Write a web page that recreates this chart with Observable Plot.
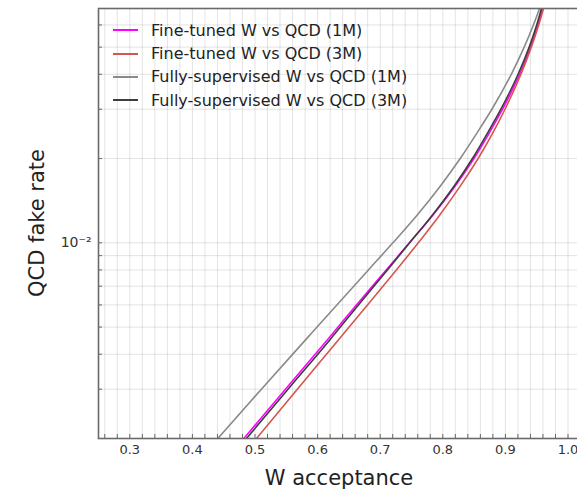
<!DOCTYPE html>
<html><head><meta charset="utf-8">
<script src="https://cdn.jsdelivr.net/npm/d3@7"></script>
<script src="https://cdn.jsdelivr.net/npm/@observablehq/plot@0.6"></script>
<style>
html,body{margin:0;padding:0;background:#fff;overflow:hidden;}
#wrap{position:relative;width:577px;height:491px;overflow:hidden;font-family:"DejaVu Sans",sans-serif;background:#fff;}
#chart{position:absolute;left:0;top:0;width:585px;height:491px;}
#chart svg{max-width:none !important;width:585px;height:491px;}
.title{position:absolute;color:#222;font-size:21px;white-space:nowrap;line-height:1;}
#xtitle{left:339px;top:478px;transform:translate(-50%,-50%);}
#ytitle{left:37px;top:223px;transform:translate(-50%,-50%) rotate(-90deg);}
#legend{position:absolute;left:113px;top:18.7px;}
.item{display:flex;align-items:center;height:23.3px;font-size:16px;color:#222;white-space:nowrap;}
.swatch{width:25px;height:0;border-top:2px solid;margin-right:13px;}
</style></head>
<body>
<div id="wrap">
  <div id="chart"></div>
  <div class="title" id="xtitle">W acceptance</div>
  <div class="title" id="ytitle">QCD fake rate</div>
  <div id="legend"></div>
</div>
<script>
// ---- data ----
const fakeRate = [0.002, 0.003, 0.0045, 0.006, 0.008, 0.01, 0.0125, 0.016, 0.02, 0.025, 0.03, 0.04, 0.05, 0.06, 0.07];
const fineTuned1M = [0.4821, 0.5486, 0.6155, 0.6620, 0.7096, 0.7466, 0.7834, 0.8201, 0.8498, 0.8757, 0.8955, 0.9227, 0.9401, 0.9518, 0.9602];
const fineTuned3M = [0.5024, 0.5676, 0.6332, 0.6797, 0.7259, 0.7609, 0.7943, 0.8284, 0.8564, 0.8812, 0.8994, 0.9248, 0.9414, 0.9532, 0.9620];
const fullySup1M  = [0.4406, 0.5102, 0.5807, 0.6308, 0.6812, 0.7203, 0.7582, 0.7965, 0.8278, 0.8562, 0.8784, 0.9094, 0.9300, 0.9447, 0.9559];
const fullySup3M  = [0.4864, 0.5527, 0.6195, 0.6652, 0.7115, 0.7471, 0.7826, 0.8185, 0.8474, 0.8730, 0.8928, 0.9203, 0.9380, 0.9500, 0.9586];

const seriesNames = ["Fine-tuned W vs QCD (1M)", "Fine-tuned W vs QCD (3M)", "Fully-supervised W vs QCD (1M)", "Fully-supervised W vs QCD (3M)"];
const seriesColors = ["#ff00ff", "#d4574f", "#8a8a8a", "#3d3d3d"];
const seriesValues = [fineTuned1M, fineTuned3M, fullySup1M, fullySup3M];

const xTicks = [0.3, 0.4, 0.5, 0.6, 0.7, 0.8, 0.9, 1.0];
const xTickLabels = ["0.3", "0.4", "0.5", "0.6", "0.7", "0.8", "0.9", "1.0"];
const xGrid = [0.26,0.28,0.30,0.32,0.34,0.36,0.38,0.40,0.42,0.44,0.46,0.48,0.50,0.52,0.54,0.56,0.58,0.60,0.62,0.64,0.66,0.68,0.70,0.72,0.74,0.76,0.78,0.80,0.82,0.84,0.86,0.88,0.90,0.92,0.94,0.96,0.98,1.00,1.02];
const yGrid = [0.002,0.003,0.004,0.005,0.006,0.007,0.008,0.009,0.01,0.02,0.03,0.04,0.05,0.06];
const yTicks = [0.01];
const yTickLabels = ["10⁻²"];

// ---- table ----
const rows = [];
seriesNames.forEach((name, i) => {
  seriesValues[i].forEach((acc, j) => rows.push({series: name, acc, fake: fakeRate[j]}));
});

const W = 585, H = 491, ML = 98, MR = 0, MT = 8, MB = 53;
const chart = Plot.plot({
  width: W, height: H,
  marginLeft: ML, marginRight: MR, marginTop: MT, marginBottom: MB,
  x: {domain: [0.25, 0.25 + (W - ML - MR) / 626]},
  y: {type: "log", domain: [0.002, 0.0687]},
  color: {domain: seriesNames, range: seriesColors},
  style: {fontFamily: "DejaVu Sans, sans-serif", fontSize: "13px", color: "#333", background: "#fff", maxWidth: "none"},
  marks: [
    Plot.gridX(xGrid, {stroke: "#000", strokeOpacity: 0.11}),
    Plot.gridY(yGrid, {stroke: "#000", strokeOpacity: 0.11}),
    Plot.axisX(xGrid, {tickSize: -4, tickFormat: () => "", label: null, stroke: "#666"}),
    Plot.axisX(xTicks, {tickSize: 0, tickPadding: 6, tickFormat: d => xTickLabels[xTicks.indexOf(d)], label: null, fill: "#333"}),
    Plot.axisY(yGrid, {tickSize: -4, tickFormat: () => "", label: null, stroke: "#666"}),
    Plot.axisY(yTicks, {tickSize: 0, tickPadding: 7, tickFormat: d => yTickLabels[yTicks.indexOf(d)], label: null, fill: "#333", fontSize: 14}),
    Plot.line(rows, {x: "acc", y: "fake", z: "series", stroke: "series", strokeWidth: 1.6, curve: "monotone-y", clip: true}),
    Plot.frame({stroke: "#6a6a6a", strokeWidth: 1.6})
  ]
});
chart.style.maxWidth = "none";
document.getElementById("chart").appendChild(chart);

const legend = document.getElementById("legend");
seriesNames.forEach((name, i) => {
  const it = document.createElement("div");
  it.className = "item";
  const sw = document.createElement("span");
  sw.className = "swatch";
  sw.style.borderTopColor = seriesColors[i];
  const tx = document.createElement("span");
  tx.textContent = name;
  it.appendChild(sw); it.appendChild(tx);
  legend.appendChild(it);
});
</script>
</body></html>
